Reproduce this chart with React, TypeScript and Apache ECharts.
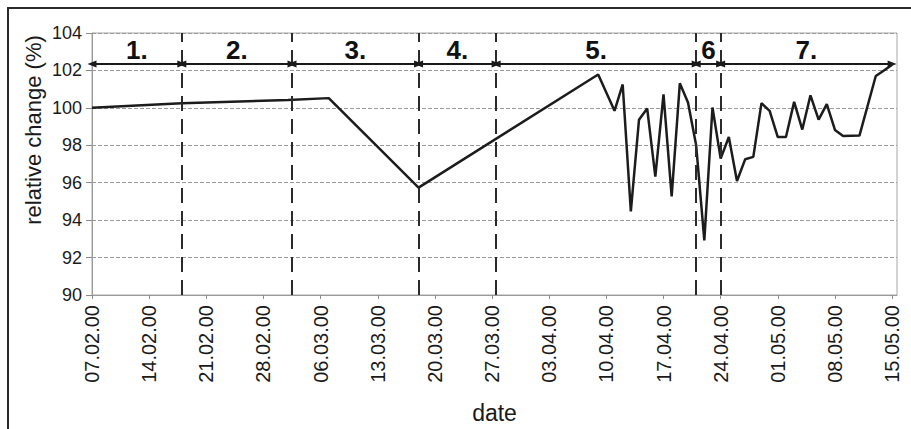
import React, { useEffect, useRef } from "react";
import * as echarts from "echarts";

// Daily relative change readings (date, % of start value)
const dates: string[] = [
  "2000-02-07", "2000-02-18", "2000-03-02", "2000-03-07", "2000-03-18",
  "2000-04-09", "2000-04-11", "2000-04-12", "2000-04-13", "2000-04-14",
  "2000-04-15", "2000-04-16", "2000-04-17", "2000-04-18", "2000-04-19",
  "2000-04-20", "2000-04-21", "2000-04-22", "2000-04-23", "2000-04-24",
  "2000-04-25", "2000-04-26", "2000-04-27", "2000-04-28", "2000-04-29",
  "2000-04-30", "2000-05-01", "2000-05-02", "2000-05-03", "2000-05-04",
  "2000-05-05", "2000-05-06", "2000-05-07", "2000-05-08", "2000-05-09",
  "2000-05-11", "2000-05-13", "2000-05-14", "2000-05-15",
];
const values: number[] = [
  100.0, 100.25, 100.42, 100.52, 95.74,
  101.78, 99.84, 101.25, 94.47, 99.37,
  99.97, 96.32, 100.72, 95.27, 101.31,
  100.29, 98.0, 92.92, 100.02, 97.29,
  98.44, 96.09, 97.25, 97.38, 100.25,
  99.84, 98.44, 98.44, 100.32, 98.84,
  100.67, 99.37, 100.2, 98.82, 98.49,
  98.52, 101.7, 102.0, 102.3,
];

// Phase boundaries (start of phase 1 .. end of phase 7) and their labels
const phaseBounds: string[] = [
  "2000-02-07", "2000-02-18", "2000-03-02T12:00", "2000-03-18",
  "2000-03-27T12:00", "2000-04-21", "2000-04-24", "2000-05-15",
];
const phaseLabels: string[] = ["1.", "2.", "3.", "4.", "5.", "6", "7."];
const phaseArrowLevel = 102.35;

// Axis settings
const axisStart = "2000-02-07";
const axisEndDays = 98.6;
const tickStepDays = 7;
const yMin = 90;
const yMax = 104;
const yStep = 2;

const DAY = 86400000;
const toMs = (s: string) =>
  Date.parse(s.length > 10 ? s + ":00Z" : s + "T00:00:00Z");
const origin = toMs(axisStart);
const toDay = (s: string) => (toMs(s) - origin) / DAY;
const pad = (n: number) => (n < 10 ? "0" + n : String(n));
const fmtDate = (day: number) => {
  const d = new Date(origin + day * DAY);
  return (
    pad(d.getUTCDate()) + "." + pad(d.getUTCMonth() + 1) + "." +
    pad(d.getUTCFullYear() % 100)
  );
};

const FONT = "'Liberation Sans', Arial, Helvetica, sans-serif";

export default function App() {
  const ref = useRef<HTMLDivElement>(null);

  useEffect(() => {
    if (!ref.current) return;
    const chart = echarts.init(ref.current, undefined, { renderer: "svg" });

    const lineData = dates.map((d, i) => [toDay(d), values[i]]);

    // dashed separators at every inner phase boundary
    const separators = phaseBounds.slice(1, -1).map((b) => ({
      xAxis: toDay(b),
      label: { show: false },
      lineStyle: { color: "#2b2b2b", width: 2, type: [15, 8] },
    }));

    // double-headed arrows with phase numbers above them
    const arrows = phaseLabels.map((lab, i) => [
      {
        coord: [toDay(phaseBounds[i]), phaseArrowLevel],
        symbol: "triangle",
        symbolSize: [7, 9],
        lineStyle: { color: "#1a1a1a", width: 2, type: "solid" },
        label: {
          show: true,
          formatter: lab,
          position: "insideMiddleTop",
          distance: 1,
          fontFamily: FONT,
          fontWeight: "bold",
          fontSize: 26,
          color: "#111",
        },
      },
      {
        coord: [toDay(phaseBounds[i + 1]), phaseArrowLevel],
        symbol: "triangle",
        symbolSize: [7, 9],
      },
    ]);

    chart.setOption({
      animation: false,
      textStyle: { fontFamily: FONT },
      grid: {
        left: 92,
        right: 14,
        top: 33,
        bottom: 131,
        show: true,
        borderColor: "#a8a8a8",
        borderWidth: 1,
      },
      graphic: [
        {
          type: "rect",
          shape: { x: 8, y: 8, width: 1200, height: 1200 },
          style: { fill: "none", stroke: "#2a2a2a", lineWidth: 2 },
          silent: true,
        },
        {
          type: "text",
          x: 33,
          y: 130,
          rotation: Math.PI / 2,
          style: {
            text: "relative change (%)",
            fontFamily: FONT,
            fontSize: 22,
            fill: "#1a1a1a",
            align: "center",
            verticalAlign: "middle",
          },
        },
      ],
      xAxis: {
        type: "value",
        min: 0,
        max: axisEndDays,
        interval: tickStepDays,
        name: "date",
        nameLocation: "middle",
        nameGap: 106,
        nameTextStyle: { fontFamily: FONT, fontSize: 23, color: "#1a1a1a" },
        axisLine: { show: true, lineStyle: { color: "#9a9a9a", width: 1 } },
        axisTick: {
          show: true,
          length: 4,
          lineStyle: { color: "#8a8a8a", width: 1 },
        },
        splitLine: { show: false },
        axisLabel: {
          rotate: 90,
          margin: 10,
          showMaxLabel: false,
          fontFamily: FONT,
          fontSize: 20,
          color: "#1a1a1a",
          formatter: (v: number) => fmtDate(v),
        },
      },
      yAxis: {
        type: "value",
        min: yMin,
        max: yMax,
        interval: yStep,
        axisLine: { show: true, lineStyle: { color: "#9a9a9a", width: 1 } },
        axisTick: {
          show: true,
          length: 6,
          lineStyle: { color: "#8a8a8a", width: 1 },
        },
        splitLine: {
          show: true,
          lineStyle: { color: "#9a9a9a", width: 1, type: [4, 2] },
        },
        axisLabel: {
          margin: 10,
          fontFamily: FONT,
          fontSize: 18,
          color: "#1a1a1a",
        },
      },
      series: [
        {
          type: "line",
          data: lineData,
          symbol: "none",
          lineStyle: { color: "#1c1c1c", width: 2.5 },
          z: 3,
          markLine: {
            silent: true,
            animation: false,
            symbol: ["none", "none"],
            data: [...separators, ...arrows],
          },
        },
      ],
    });

    return () => chart.dispose();
  }, []);

  return (
    <div
      ref={ref}
      style={{
        position: "absolute",
        left: 0,
        top: 0,
        width: 911,
        height: 429,
        background: "#fff",
      }}
    />
  );
}
